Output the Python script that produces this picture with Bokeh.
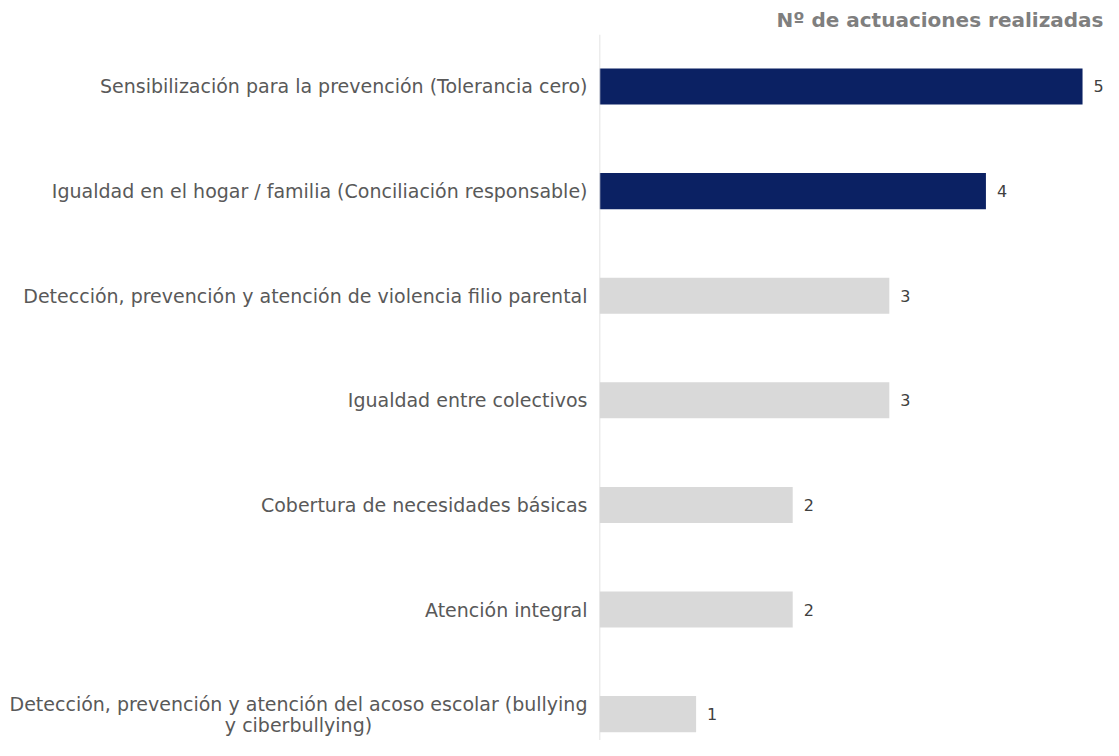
from bokeh.plotting import figure
from bokeh.layouts import row
from bokeh.models import ColumnDataSource, Range1d, Span
from bokeh.core.properties import value
from bokeh.embed import file_html
from bokeh.resources import INLINE

categories = [
    "Sensibilización para la prevención (Tolerancia cero)",
    "Igualdad en el hogar / familia (Conciliación responsable)",
    "Detección, prevención y atención de violencia filio parental",
    "Igualdad entre colectivos",
    "Cobertura de necesidades básicas",
    "Atención integral",
    "Detección, prevención y atención del acoso escolar (bullying\ny ciberbullying)",
]
values = [5, 4, 3, 3, 2, 2, 1]
highlight = [True, True, False, False, False, False, False]
title_text = "Nº de actuaciones realizadas"

NAVY = "#0b2163"
GREY = "#d9d9d9"
FONT = "DejaVu Sans"
LEFT_W = 599

idx = list(range(len(categories)))
colors = [NAVY if h else GREY for h in highlight]
labels = [str(v) for v in values]
is_multi = ["\n" in c for c in categories]

yr = Range1d(6.252, -0.497)
src = ColumnDataSource(dict(y=idx, v=values, color=colors, lab=labels))

# label panel
lp = figure(width=LEFT_W, height=740, output_backend="svg", toolbar_location=None,
            x_range=Range1d(0, LEFT_W), y_range=yr,
            min_border_left=0, min_border_right=0, min_border_top=34, min_border_bottom=0)
lp.axis.visible = False
lp.grid.visible = False
lp.outline_line_color = None

single = [i for i in idx if not is_multi[i]]
multi = [i for i in idx if is_multi[i]]
src_s = ColumnDataSource(dict(y=[idx[i] for i in single], t=[categories[i] for i in single]))
src_m = ColumnDataSource(dict(y=[idx[i] for i in multi], t=[categories[i] for i in multi]))
lp.text(x=LEFT_W, y="y", text="t", source=src_s, x_offset=-12, text_align="right",
        text_baseline="middle", text_font=value(FONT), text_font_size="19px", text_color="#595959")
lp.text(x=LEFT_W, y="y", text="t", source=src_m, x_offset=-301, text_align="center",
        text_baseline="middle", text_font=value(FONT), text_font_size="19px", text_color="#595959",
        text_line_height=0.95)

# bar panel
p = figure(width=1103 - LEFT_W, height=740, output_backend="svg", toolbar_location=None,
           x_range=Range1d(0, 5.217), y_range=yr,
           min_border_left=0, min_border_right=0, min_border_top=34, min_border_bottom=0)
p.title.text = title_text
p.title.align = "right"
p.title.text_font = FONT
p.title.text_font_style = "bold"
p.title.text_font_size = "20px"
p.title.text_color = "#7f7f7f"
p.title.standoff = 6

p.axis.visible = False
p.grid.visible = False
p.outline_line_color = None

p.add_layout(Span(location=0, dimension="height", line_color="#d9d9d9", line_width=1.5))

p.hbar(y="y", right="v", left=0, height=0.345, fill_color="color", line_color=None, source=src)

p.text(x="v", y="y", text="lab", source=src, x_offset=11, text_align="left",
       text_baseline="middle", text_font=value(FONT), text_font_size="16px", text_color="#404040")

layout = row(lp, p, spacing=0)
open("out.html", "w").write(file_html(layout, INLINE))
